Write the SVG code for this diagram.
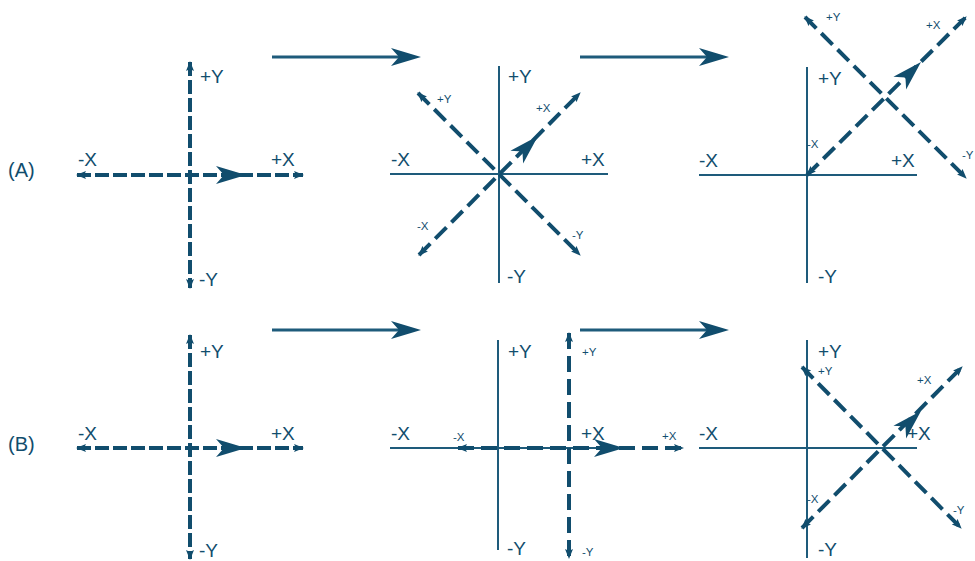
<svg xmlns="http://www.w3.org/2000/svg" width="975" height="561" viewBox="0 0 975 561">
<style>
.thin{stroke:#1e5b7b;stroke-width:2;fill:none}
.dash{stroke:#114d6d;stroke-width:4;fill:none;stroke-dasharray:16 7;marker-start:url(#sa);marker-end:url(#sa)}
.dash1{stroke:#114d6d;stroke-width:4;fill:none;stroke-dasharray:14 4;marker-start:url(#sa);marker-end:url(#sa)}
.head{fill:#114d6d}
.big{font-family:"Liberation Sans",Arial,sans-serif;font-size:19px;fill:#114d6d}
.sm{font-family:"Liberation Sans",Arial,sans-serif;font-size:11.5px;fill:#114d6d}
.conn{stroke:#1e5b7b;stroke-width:3;fill:none}
</style>
<defs>
<marker id="sa" viewBox="0 0 10 8" refX="9" refY="4" markerWidth="10" markerHeight="8" markerUnits="userSpaceOnUse" orient="auto-start-reverse">
<path d="M0,0 L10,4 L0,8 L2,4 Z" fill="#114d6d"/>
</marker>
<path id="bh" d="M0,0 L-30,-9 L-22,0 L-30,9 Z"/>
</defs>
<rect width="975" height="561" fill="#ffffff"/>

<g id="rowlabels">
<text class="big" x="8" y="177" style="font-size:20px">(A)</text>
<text class="big" x="8" y="451" style="font-size:20px">(B)</text>
</g>

<g id="connectors">
<line class="conn" x1="272" y1="57" x2="400" y2="57"/>
<use href="#bh" class="head" transform="translate(421,57)"/>
<line class="conn" x1="580" y1="57" x2="708" y2="57"/>
<use href="#bh" class="head" transform="translate(729,57)"/>
<line class="conn" x1="272" y1="330" x2="400" y2="330"/>
<use href="#bh" class="head" transform="translate(421,330)"/>
<line class="conn" x1="580" y1="330" x2="708" y2="330"/>
<use href="#bh" class="head" transform="translate(729,330)"/>
</g>

<g id="panelA1">
<line class="dash1" x1="190" y1="62" x2="190" y2="288"/>
<line class="dash1" x1="77" y1="175" x2="303" y2="175"/>
<use href="#bh" class="head" transform="translate(246,175)"/>
<text class="big" x="200" y="83">+Y</text>
<text class="big" x="78" y="166">-X</text>
<text class="big" x="271" y="166">+X</text>
<text class="big" x="199" y="286">-Y</text>
</g>

<g id="panelA2">
<line class="thin" x1="499" y1="66" x2="499" y2="283"/>
<line class="thin" x1="390" y1="174" x2="608" y2="174"/>
<line class="dash" x1="419" y1="255" x2="580" y2="93"/>
<line class="dash" x1="418" y1="93" x2="580" y2="255"/>
<use href="#bh" class="head" transform="translate(538,136) rotate(-45)"/>
<text class="big" x="508" y="83">+Y</text>
<text class="big" x="391" y="166">-X</text>
<text class="big" x="581" y="166">+X</text>
<text class="big" x="507" y="283">-Y</text>
<text class="sm" x="437" y="103">+Y</text>
<text class="sm" x="536" y="112">+X</text>
<text class="sm" x="417" y="230">-X</text>
<text class="sm" x="572" y="239">-Y</text>
</g>

<g id="panelA3">
<line class="thin" x1="807" y1="67" x2="807" y2="283"/>
<line class="thin" x1="699" y1="175" x2="917" y2="175"/>
<line class="dash" x1="807" y1="175" x2="966" y2="17"/>
<line class="dash" x1="805" y1="17" x2="966" y2="178"/>
<use href="#bh" class="head" transform="translate(921,62) rotate(-45)"/>
<text class="big" x="818" y="85">+Y</text>
<text class="big" x="699" y="167">-X</text>
<text class="big" x="891" y="167">+X</text>
<text class="big" x="818" y="283">-Y</text>
<text class="sm" x="826" y="21">+Y</text>
<text class="sm" x="926" y="29">+X</text>
<text class="sm" x="807" y="148">-X</text>
<text class="sm" x="962" y="159">-Y</text>
</g>

<g id="panelB1">
<line class="dash1" x1="190" y1="335" x2="190" y2="559"/>
<line class="dash1" x1="77" y1="448" x2="303" y2="448"/>
<use href="#bh" class="head" transform="translate(246,448)"/>
<text class="big" x="200" y="358">+Y</text>
<text class="big" x="78" y="440">-X</text>
<text class="big" x="271" y="440">+X</text>
<text class="big" x="199" y="557">-Y</text>
</g>

<g id="panelB2">
<line class="thin" x1="498" y1="340" x2="498" y2="550"/>
<line class="thin" x1="390" y1="448" x2="608" y2="448"/>
<line class="dash" x1="458" y1="448" x2="683" y2="448"/>
<line class="dash" x1="569" y1="333" x2="569" y2="558"/>
<use href="#bh" class="head" transform="translate(624,448)"/>
<text class="big" x="508" y="358">+Y</text>
<text class="big" x="391" y="440">-X</text>
<text class="big" x="581" y="440">+X</text>
<text class="big" x="507" y="555">-Y</text>
<text class="sm" x="453" y="441">-X</text>
<text class="sm" x="582" y="356">+Y</text>
<text class="sm" x="662" y="440">+X</text>
<text class="sm" x="582" y="556">-Y</text>
</g>

<g id="panelB3">
<line class="thin" x1="807" y1="340" x2="807" y2="558"/>
<line class="thin" x1="699" y1="448" x2="917" y2="448"/>
<line class="dash" x1="802" y1="528" x2="962" y2="367"/>
<line class="dash" x1="802" y1="367" x2="961" y2="528"/>
<use href="#bh" class="head" transform="translate(921,411) rotate(-45)"/>
<text class="big" x="818" y="358">+Y</text>
<text class="big" x="699" y="440">-X</text>
<text class="big" x="907" y="440">+X</text>
<text class="big" x="818" y="556">-Y</text>
<text class="sm" x="818" y="375">+Y</text>
<text class="sm" x="917" y="384">+X</text>
<text class="sm" x="807" y="503">-X</text>
<text class="sm" x="953" y="514">-Y</text>
</g>
</svg>
